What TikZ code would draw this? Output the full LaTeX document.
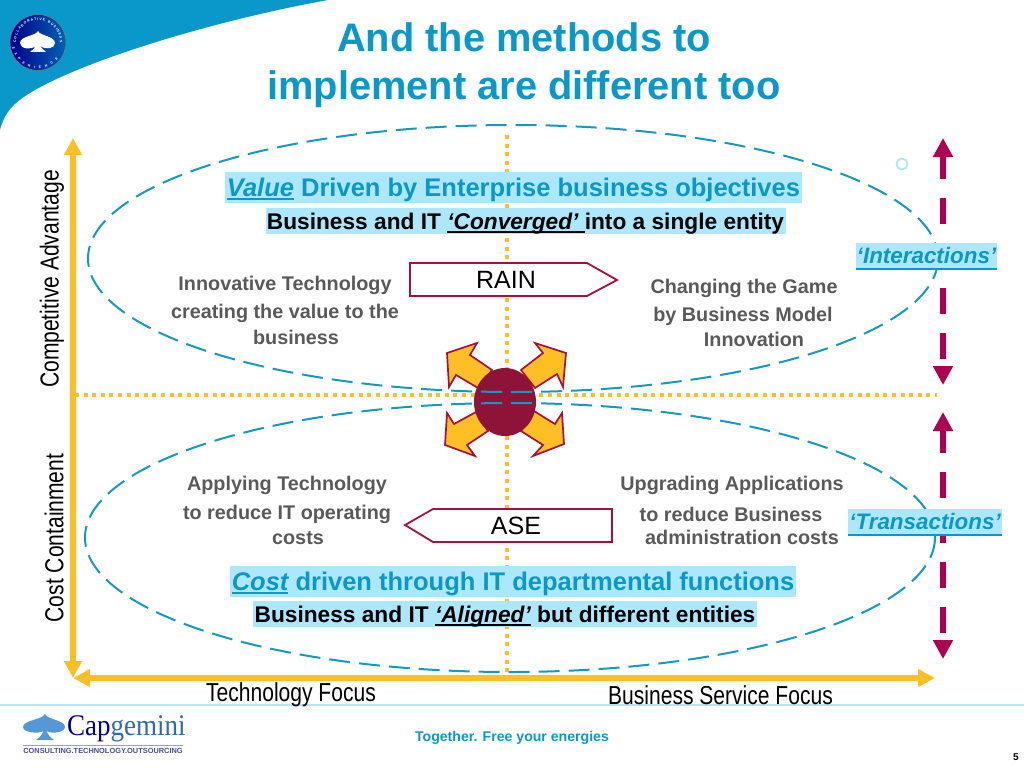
\documentclass[tikz,border=0pt]{standalone}
\usepackage{fontspec}
\setmainfont{Liberation Sans}
\newfontfamily\serifcap{Liberation Serif}
\usetikzlibrary{positioning, arrows.meta, decorations.text}
\definecolor{capblue}{HTML}{0A97C9}
\definecolor{dashblue}{HTML}{1499BF}
\definecolor{hlblue}{HTML}{ACE7FC}
\definecolor{axisyellow}{HTML}{FDBF24}
\definecolor{wine}{HTML}{8F1239}
\definecolor{tagred}{HTML}{A5103F}
\definecolor{magentared}{HTML}{AD0050}
\definecolor{grayword}{HTML}{595959}
\newcommand{\ulword}[1]{\setbox0=\hbox{#1}\rlap{\rule[-3.5pt]{\wd0}{2pt}}\box0\relax}
\newcommand{\narrowword}[1]{\scalebox{.81}[1]{#1}}
\tikzset{
  axisline/.style={line width=5.5pt,axisyellow,{Triangle[width=17pt,length=17pt]}-{Triangle[width=17pt,length=17pt]}},
  dotline/.style={line width=3.6pt,axisyellow,dash pattern=on 4pt off 4.6pt},
  dashring/.style={line width=2pt,dashblue,dash pattern=on 21pt off 9pt},
  winearrow/.style={line width=6.4pt,magentared,dash pattern=on 26pt off 19pt,dash phase=3pt,{Triangle[width=19pt,length=19pt]}-{Triangle[width=19pt,length=19pt]}},
  blockarrow/.style={draw=tagred,line width=1.7pt,fill=axisyellow,line join=miter},
  tagbox/.style={draw=tagred,line width=1.8pt,fill=white},
  graytext/.style={font=\fontsize{19.8}{24}\selectfont\bfseries,text=grayword,inner sep=0pt},
  hlbox/.style={fill=hlblue,inner sep=0pt},
  hltitle/.style={hlbox,text height=24pt,text depth=7pt,font=\fontsize{25.5}{28}\selectfont\bfseries,text=capblue},
  hlsub/.style={hlbox,text height=21pt,text depth=5pt,font=\fontsize{22.7}{26}\selectfont\bfseries},
  hlside/.style={hlbox,text height=20pt,text depth=6pt,font=\fontsize{22.4}{26}\selectfont\bfseries\itshape,text=capblue},
  axistext/.style={font=\fontsize{26}{28}\selectfont,inner sep=0pt},
  spadelogo/.style={fill=cyan!60!blue!70}
}
\begin{document}
\begin{tikzpicture}[x=1pt,y=-1pt]
\useasboundingbox (0,0) rectangle (1024,768);
% swoosh and seal
\fill[capblue] (0,0) -- (328,0) .. controls (190,25) and (40,75) .. (12,107) .. controls (6,113) and (2,122) .. (0,130) -- cycle;
\shade[left color=blue!55!black,right color=blue!45!cyan!70!black,draw=black!50,line width=.5pt] (38,42.5) circle (28);
\path[decorate,decoration={text along path,text align=fit to path,text={|\fontsize{3.4}{4}\selectfont\bfseries\color{white}|COLLABORATIVE BUSINESS}}] (16,42.5) arc[start angle=180,end angle=360,radius=22];
\path[decorate,decoration={text along path,text align=fit to path,text={|\fontsize{3.4}{4}\selectfont\bfseries\color{white}|EXPERIENCE}}] (12.5,47) arc[start angle=170,end angle=40,radius=26];
\fill[white] (38,31) .. controls (40,36) and (55,36) .. (55,43) .. controls (55,49) and (45,50) .. (40,46) .. controls (41,48) and (44,50) .. (46,52) -- (30,52) .. controls (32,50) and (35,48) .. (36,46) .. controls (31,50) and (20,49) .. (20,43) .. controls (20,36) and (36,36) .. (38,31) -- cycle;
% title
\node[font=\fontsize{39.8}{48}\selectfont\bfseries,text=capblue,align=center,inner sep=0pt] (title) at (524,65) {And the methods to\\implement are different too};
% footer rule
\draw[line width=1.5pt,cyan!30!white] (0,705) -- (1024,705);
% quadrant lines
\draw[dotline] (507,135) -- (507,672);
\draw[dotline] (75,395) -- (937,395);
% axes
\coordinate (axtop) at (73,138);
\coordinate (axorig) at (73,678);
\coordinate (axright) at (935,678);
\draw[axisline] (axtop) -- (axorig);
\draw[axisline] (axorig) -- (axright);
\node[axistext,rotate=90] (compadv) at (52,279) {\narrowword{Competitive Advantage}};
\node[axistext,rotate=90] (costcont) at (54,538) {\narrowword{Cost Containment}};
\node[axistext] (techfocus) at (291,695) {\narrowword{Technology Focus}};
\node[axistext] (busfocus) at (720.5,695) {\narrowword{Business Service Focus}};
% centre burst
\filldraw[blockarrow] (447,353) -- (477,343) -- (470,355) -- (492,370) -- (478,388) -- (456,375) -- (449,387) -- cycle;
\filldraw[blockarrow] (566,353) -- (535,343) -- (543,353) -- (521,370) -- (535,388) -- (557,374) -- (563,387) -- cycle;
\filldraw[blockarrow] (445,445) -- (475,456) -- (467,445) -- (488,431) -- (476,412) -- (454,424) -- (447,413) -- cycle;
\filldraw[blockarrow] (564,444) -- (533,456) -- (543,445) -- (521,431) -- (534,411) -- (555,424) -- (562,413) -- cycle;
\fill[wine] (505,402) ellipse (31 and 34);
% dashed ellipses
\draw[dashring] (513,258.5) ellipse (425 and 133.5);
\draw[dashring] (510,537.5) ellipse (425 and 134.5);
% wine arrows
\coordinate (intop) at (943,138);
\coordinate (inbot) at (943,385);
\coordinate (trtop) at (943,412);
\coordinate (trbot) at (943,659);
\draw[winearrow] (intop) -- (inbot);
\draw[winearrow] (trtop) -- (trbot);
\draw[hlblue,line width=1.8pt] (902,164) circle (5.5);
% highlighted headings
\node[hltitle,minimum width=577pt] (valuehd) at (513.5,187.5) {\ulword{\itshape Value} Driven by Enterprise business objectives};
\node[hlsub,minimum width=520pt] (converged) at (525.5,221) {Business and IT \ulword{\itshape ‘Converged’ }into a single entity};
\node[hltitle,minimum width=566pt] (costhd) at (513,581.5) {\ulword{\itshape Cost} driven through IT departmental functions};
\node[hlsub,minimum width=504pt] (aligned) at (505,614) {Business and IT \ulword{\itshape ‘Aligned’} but different entities};
\node[hlside,minimum width=141pt] (interact) at (926.5,256) {‘Interactions’};
\node[hlside,minimum width=154pt] (transact) at (925,522) {‘Transactions’};
\fill[capblue] (856,268) rectangle (997,270);
\fill[capblue] (848,534) rectangle (1002,536);
% tag arrows
\draw[tagbox] (410,263) -- (587,263) -- (617,280) -- (587,296) -- (410,296) -- cycle;
\node[font=\fontsize{25}{28}\selectfont,inner sep=0pt] (rain) at (506,280) {RAIN};
\draw[tagbox] (405,525) -- (433,509) -- (612,509) -- (612,542) -- (433,542) -- cycle;
\node[font=\fontsize{25}{28}\selectfont,inner sep=0pt] (ase) at (516,526) {ASE};
% grey text
\node[graytext] (innov) at (285,285) {Innovative Technology};
\node[graytext] (creating) at (285,313) {creating the value to the};
\node[graytext] (business) at (296,337) {business};
\node[graytext] (changing) at (744,288) {Changing the Game};
\node[graytext] (bymodel) at (743,316) {by Business Model};
\node[graytext] (innovation) at (754,339) {Innovation};
\node[graytext] (applying) at (287,485) {Applying Technology};
\node[graytext] (reduceit) at (287,514) {to reduce IT operating};
\node[graytext] (costs) at (298,538) {costs};
\node[graytext] (upgrading) at (732,485) {Upgrading Applications};
\node[graytext] (reducebus) at (731,514) {to reduce Business};
\node[graytext] (admin) at (742,537) {administration costs};
% footer
\node[font=\fontsize{14.1}{16}\selectfont\bfseries,text=capblue,inner sep=0pt] (slogan) at (512,738) {Together. Free your energies};
\node[font=\fontsize{10}{12}\selectfont\bfseries,inner sep=0pt] (pagenum) at (1016,757) {5};
% capgemini logo
\fill[spadelogo] (45,714) .. controls (48,720) and (65,720) .. (65,727) .. controls (65,733) and (50,734) .. (47,731) .. controls (47,734) and (50,737) .. (54,740) -- (36,740) .. controls (40,737) and (43,734) .. (43,731) .. controls (40,734) and (23,733) .. (23,727) .. controls (23,720) and (42,720) .. (45,714) -- cycle;
\node[font=\serifcap\fontsize{30}{32}\selectfont,inner sep=0pt,anchor=west] (capword) at (67,729) {\scalebox{.9}[1]{\textcolor{blue!55!black}{Cap}\textcolor{cyan!50!blue!85!black}{gemini}}};
\draw[cyan!50!blue!50,line width=.6pt] (23,745) -- (183,745);
\node[font=\fontsize{7.4}{8}\selectfont\bfseries,text=blue!35!black!70,inner sep=0pt] (capline) at (103,750.5) {CONSULTING.TECHNOLOGY.OUTSOURCING};
\end{tikzpicture}
\end{document}
